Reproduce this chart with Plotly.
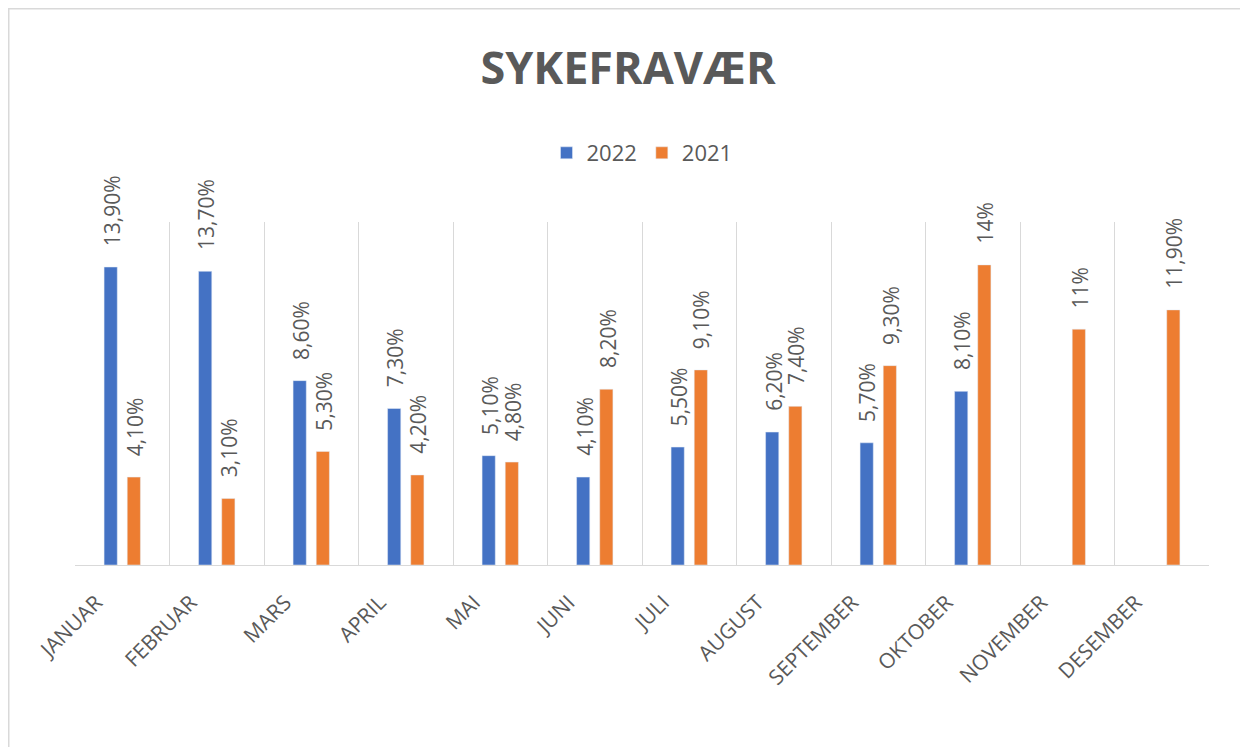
import plotly.graph_objects as go

months = ["JANUAR", "FEBRUAR", "MARS", "APRIL", "MAI", "JUNI", "JULI",
          "AUGUST", "SEPTEMBER", "OKTOBER", "NOVEMBER", "DESEMBER"]
vals_2022 = [13.9, 13.7, 8.6, 7.3, 5.1, 4.1, 5.5, 6.2, 5.7, 8.1, None, None]
vals_2021 = [4.1, 3.1, 5.3, 4.2, 4.8, 8.2, 9.1, 7.4, 9.3, 14.0, 11.0, 11.9]
labels_2022 = ["13,90%", "13,70%", "8,60%", "7,30%", "5,10%", "4,10%", "5,50%",
               "6,20%", "5,70%", "8,10%", "", ""]
labels_2021 = ["4,10%", "3,10%", "5,30%", "4,20%", "4,80%", "8,20%", "9,10%",
               "7,40%", "9,30%", "14%", "11%", "11,90%"]

FONT = "Open Sans"
GREY = "#595959"

# figure geometry (page has an 8px body margin)
W, H = 1240, 739
ML, MR, MT, MB = 67, 39, 214, 182
PW, PH = W - ML - MR, H - MT - MB

fig = go.Figure()
fig.add_trace(go.Bar(name="2022", x=months, y=vals_2022, marker_color="#4472C4"))
fig.add_trace(go.Bar(name="2021", x=months, y=vals_2021, marker_color="#ED7D31"))

annotations = []
for vals, labels, shift in ((vals_2022, labels_2022, -11.5), (vals_2021, labels_2021, 11.5)):
    for m, v, t in zip(months, vals, labels):
        if v is None or not t:
            continue
        annotations.append(dict(x=m, y=v, xref="x", yref="y", text=t,
                                showarrow=False, textangle=-90,
                                xanchor="center", yanchor="bottom",
                                xshift=shift + 1, yshift=19,
                                font=dict(family=FONT, size=21, color=GREY)))

fig.update_layout(
    width=W, height=H,
    margin=dict(l=ML, r=MR, t=MT, b=MB),
    paper_bgcolor="white", plot_bgcolor="white",
    barmode="group", bargap=0.51, bargroupgap=0.43,
    title=dict(text="<b>SYKEFRAVÆR</b>", x=0.5, xanchor="center",
               y=1 - 60 / H, yanchor="middle",
               font=dict(family=FONT, size=45, color=GREY)),
    legend=dict(orientation="h", x=0.5, xanchor="center",
                y=1 + (MT - 145) / PH, yanchor="middle",
                font=dict(family=FONT, size=22, color=GREY),
                itemwidth=30, traceorder="normal"),
    showlegend=True,
    annotations=annotations,
)
fig.update_xaxes(type="category", tickson="boundaries", showgrid=True,
                 gridcolor="#d9d9d9", gridwidth=1, showline=True,
                 linecolor="#d9d9d9", linewidth=1, ticks="", tickangle=-45,
                 tickfont=dict(family=FONT, size=21, color=GREY),
                 ticklabelstandoff=16, ticklabelshift=-26,
                 range=[-0.5, 11.5])
fig.update_yaxes(range=[0, 16], showgrid=False, showticklabels=False,
                 zeroline=False, showline=False, ticks="")

fig.add_shape(type="rect", xref="paper", yref="paper",
              x0=(0.5 - ML) / PW, x1=(W - 1 - ML) / PW,
              y0=-0.7, y1=(MT + PH - 0.5) / PH,
              line=dict(color="#d9d9d9", width=2), fillcolor="rgba(0,0,0,0)",
              layer="below")

fig.write_html("out.html")
